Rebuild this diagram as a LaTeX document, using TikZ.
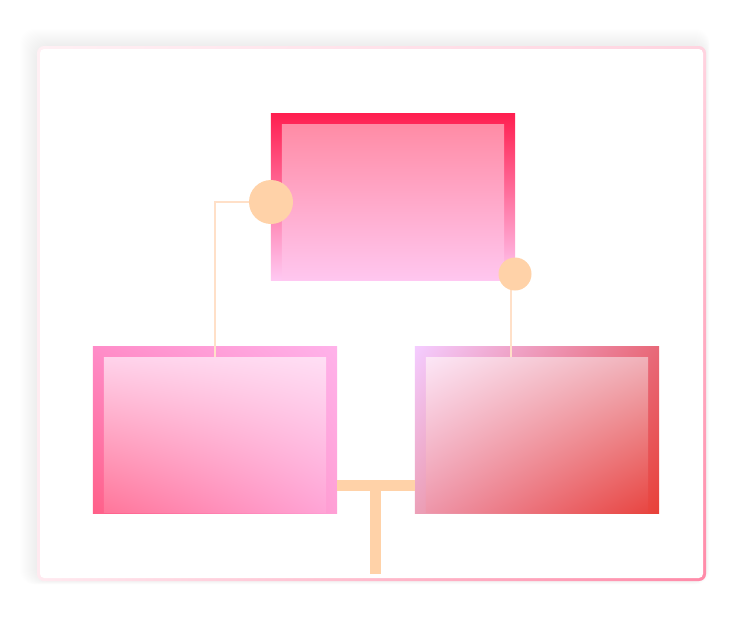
\documentclass[tikz,border=0pt]{standalone}
\usepackage{tikz}
\usetikzlibrary{positioning, shadings}

\definecolor{peach}{HTML}{FFD2A8}
\definecolor{wirecol}{HTML}{FFE0C8}
\definecolor{rimA}{HTML}{FFF0F4}
\definecolor{rimB}{HTML}{FFD4E0}
\definecolor{rimC}{HTML}{FFEAF0}
\definecolor{rimD}{HTML}{FF8AA8}

\tikzset{
  box/.style={rectangle, inner sep=0pt, minimum width=6.1cm, minimum height=4.15cm},
  pane/.style={rectangle, inner sep=0pt, anchor=north, minimum width=5.55cm, minimum height=3.85cm},
  knob/.style={circle, fill=peach, inner sep=0pt},
  wire/.style={draw=wirecol, line width=0.05cm},
  bar/.style={draw=peach, line width=0.275cm}
}

\begin{document}
\begin{tikzpicture}[x=0.025cm, y=-0.025cm]
\useasboundingbox (0,0) rectangle (740,634);
% soft shadow of the card
\foreach \s in {1,...,18}
  \fill[black, opacity=0.004, rounded corners=10] (38-\s,47-\s) rectangle (705+\s/4,580+\s/4);
\shade[upper left=rimA, upper right=rimB, lower left=rimC, lower right=rimD, rounded corners=5]
  (37,46) rectangle (706,581);
\fill[white, rounded corners=3] (40,49) rectangle (703,578);

% the three boxes
\node[box, top color={rgb,255:red,255;green,31;blue,80}, bottom color={rgb,255:red,255;green,200;blue,242}] (boss) at (393,197) {};
\node[box, upper left={rgb,255:red,255;green,140;blue,200}, upper right={rgb,255:red,255;green,178;blue,234},
  lower left={rgb,255:red,255;green,95;blue,136}, lower right={rgb,255:red,255;green,160;blue,214}] (left) at (215,430) {};
\node[box, upper left={rgb,255:red,244;green,204;blue,255}, upper right={rgb,255:red,232;green,104;blue,120},
  lower left={rgb,255:red,236;green,160;blue,184}, lower right={rgb,255:red,232;green,64;blue,56}] (right) at (537,430) {};

% connectors
\coordinate (r1) at (511,274);
\node[pane] (paneL) at ([yshift=-0.275cm]left.north) {};
\node[pane] (paneR) at ([yshift=-0.275cm]right.north) {};
\draw[wire] (271,202) -| (paneL.north);
\draw[wire] (r1) -- (r1 |- paneR.north);

\node[pane, top color={rgb,255:red,255;green,140;blue,166}, bottom color={rgb,255:red,255;green,198;blue,238}] (paneT) at ([yshift=-0.275cm]boss.north) {};
\node[pane, upper left={rgb,255:red,255;green,210;blue,234}, upper right={rgb,255:red,255;green,222;blue,244},
  lower left={rgb,255:red,255;green,118;blue,154}, lower right={rgb,255:red,255;green,164;blue,214}] at (paneL.north) {};
\node[pane, upper left={rgb,255:red,252;green,230;blue,246}, upper right={rgb,255:red,240;green,176;blue,184},
  lower left={rgb,255:red,238;green,150;blue,170}, lower right={rgb,255:red,232;green,70;blue,66}] at (paneR.north) {};

\node[knob, minimum size=1.1cm] (knobL) at (271,202) {};
\node[knob, minimum size=0.825cm] (knobR) at (515,274) {};

% tee between the lower boxes
\coordinate (tee) at (375.5,485.5);
\coordinate (foot) at (375.5,574);
\draw[bar] (tee -| left.east) -- (tee -| right.west);
\draw[bar] (tee) -- (foot);
\end{tikzpicture}
\end{document}
